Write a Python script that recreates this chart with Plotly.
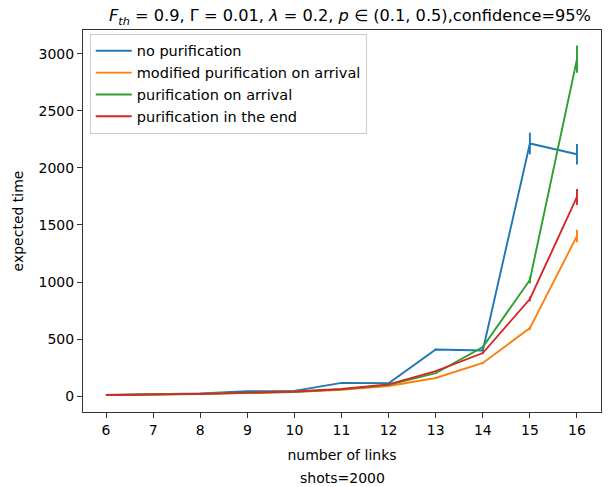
import plotly.graph_objects as go

links = [6, 7, 8, 9, 10, 11, 12, 13, 14, 15, 16]

no_pur = [10, 18, 22, 42, 45, 115, 112, 408, 400, 2215, 2120]
no_pur_err = [1, 1, 1, 2, 2, 4, 4, 8, 8, 95, 90]

mod_pur = [8, 12, 18, 26, 36, 55, 88, 158, 290, 596, 1403]
mod_pur_err = [0.5, 0.5, 1, 1, 1, 2, 3, 5, 8, 15, 55]

pur_arr = [8, 12, 18, 28, 38, 58, 98, 200, 430, 1018, 2955]
pur_arr_err = [0.5, 0.5, 1, 1, 1, 2, 3, 6, 12, 30, 120]

pur_end = [9, 13, 19, 30, 40, 62, 102, 219, 377, 851, 1746]
pur_end_err = [0.5, 0.5, 1, 1, 1, 2, 3, 6, 10, 20, 70]

series = [
    ("no purification", no_pur, no_pur_err, "#1f77b4"),
    ("modified purification on arrival", mod_pur, mod_pur_err, "#ff7f0e"),
    ("purification on arrival", pur_arr, pur_arr_err, "#2ca02c"),
    ("purification in the end", pur_end, pur_end_err, "#d62728"),
]

fig = go.Figure()
for name, ys, errs, col in series:
    fig.add_trace(go.Scatter(
        x=links, y=ys, name=name, mode="lines",
        line=dict(color=col, width=1.9),
        error_y=dict(type="data", array=errs, visible=True, color=col, thickness=1.9, width=0),
    ))

font = "DejaVu Sans, Arial, sans-serif"
W, H = 602, 479
fig.update_layout(
    width=W, height=H,
    margin=dict(l=75, r=9, t=22, b=75, autoexpand=False),
    paper_bgcolor="white", plot_bgcolor="white",
    font=dict(family=font, size=14, color="black"),
    title=dict(
        text="<i>F</i><sub><i>th</i></sub> = 0.9, Γ = 0.01, <i>λ</i> = 0.2, <i>p</i> ∈ (0.1, 0.5),confidence=95%",
        x=342 / W, xref="container", xanchor="center", y=1, yref="container", yanchor="top",
        pad=dict(t=2), font=dict(size=16.2),
    ),
    xaxis=dict(
        range=[5.51, 16.51], tickmode="array", tickvals=links,
        ticktext=[str(v) for v in links], automargin=False,
        showgrid=False, zeroline=False, showline=True, linecolor="#333333", linewidth=1, mirror=True,
        ticks="outside", ticklen=5, tickcolor="#333333",
        title=dict(text="number of links", standoff=13, font=dict(size=14)),
    ),
    yaxis=dict(
        range=[-140, 3210], tickmode="array", tickvals=[0, 500, 1000, 1500, 2000, 2500, 3000],
        automargin=False,
        showgrid=False, zeroline=False, showline=True, linecolor="#333333", linewidth=1, mirror=True,
        ticks="outside", ticklen=5, tickcolor="#333333",
        title=dict(text="expected time", standoff=11, font=dict(size=14)),
    ),
    legend=dict(
        x=0.013, y=0.99, xanchor="left", yanchor="top",
        bgcolor="rgba(255,255,255,0.8)", bordercolor="#cccccc", borderwidth=1,
        font=dict(size=14.5), tracegroupgap=0, itemwidth=36,
    ),
    showlegend=True,
)
fig.add_annotation(
    text="shots=2000", xref="paper", yref="paper", x=0.5, y=-66 / 382,
    xanchor="center", yanchor="middle", showarrow=False, font=dict(size=14),
)
fig.write_html("out.html")
